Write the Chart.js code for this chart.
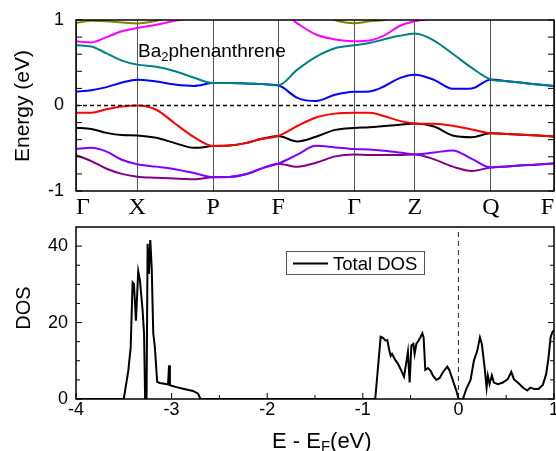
<!DOCTYPE html>
<html>
<head>
<meta charset="utf-8">
<script src="https://cdn.jsdelivr.net/npm/chart.js@4.4.0/dist/chart.umd.min.js"></script>
<style>
  html, body { margin: 0; padding: 0; background: #fff; }
  #wrap { position: relative; width: 556px; height: 451px; }
  .panel { position: absolute; left: 0; }
  #bandBox { top: 0; }
  #dosBox { top: 220px; }
</style>
</head>
<body>
<div id="wrap">
  <div class="panel" id="bandBox"><canvas id="bandChart" width="556" height="220"></canvas></div>
  <div class="panel" id="dosBox"><canvas id="dosChart" width="556" height="231"></canvas></div>
</div>
<script>
// ---- band structure ----
// high-symmetry points along the path (path length, normalised)
const kLabels = ['Γ', 'X', 'P', 'F', 'Γ', 'Z', 'Q', 'F'];
const kTicks  = [0, 0.128, 0.287, 0.423, 0.582, 0.709, 0.868, 1.0];

// k samples (each segment read at quarter steps)
const kGrid = [
  0, 0.032, 0.064, 0.096, 0.128,
  0.168, 0.207, 0.247, 0.287,
  0.321, 0.355, 0.389, 0.423,
  0.463, 0.502, 0.542, 0.582,
  0.614, 0.645, 0.677, 0.709,
  0.749, 0.788, 0.828, 0.868,
  0.901, 0.934, 0.967, 1.0
];

// band energies (eV) on kGrid
const bandOlive   = [0.965, 0.99, 0.985, 0.97, 0.96,  0.99, 1.05, 1.08, 1.1,  1.12, 1.12, 1.12, 1.12,  1.12, 1.1, 1.0, 0.962,  0.985, 1.0, 1.05, 1.08,  1.1, 1.12, 1.12, 1.12,  1.12, 1.12, 1.12, 1.12];
const bandMagenta = [0.752, 0.738, 0.80, 0.868, 0.906,  0.945, 0.99, 1.03, 1.06,  1.08, 1.1, 1.12, 1.12,  0.96, 0.83, 0.772, 0.752,  0.76, 0.82, 0.93, 0.985,  1.02, 1.06, 1.08, 1.1,  1.1, 1.1, 1.1, 1.1];
const bandTeal    = [0.705, 0.69, 0.61, 0.525, 0.478,  0.452, 0.40, 0.325, 0.262,  0.262, 0.258, 0.25, 0.236,  0.42, 0.57, 0.67, 0.704,  0.73, 0.775, 0.815, 0.842,  0.76, 0.605, 0.44, 0.305,  0.285, 0.265, 0.245, 0.228];
const bandBlue    = [0.16, 0.178, 0.215, 0.268, 0.302,  0.28, 0.245, 0.228, 0.262,  0.262, 0.258, 0.25, 0.236,  0.09, 0.052, 0.125, 0.16,  0.165, 0.225, 0.32, 0.36,  0.30, 0.195, 0.2, 0.305,  0.285, 0.265, 0.245, 0.228];
const bandRed     = [-0.085, -0.085, -0.045, -0.012, 0.0,  -0.05, -0.21, -0.37, -0.474,  -0.468, -0.44, -0.39, -0.357,  -0.24, -0.14, -0.095, -0.084,  -0.085, -0.125, -0.18, -0.21,  -0.214, -0.237, -0.28, -0.325,  -0.332, -0.342, -0.352, -0.362];
const bandBlack   = [-0.26, -0.275, -0.32, -0.345, -0.35,  -0.378, -0.44, -0.495, -0.474,  -0.468, -0.44, -0.39, -0.357,  -0.42, -0.365, -0.285, -0.262,  -0.255, -0.24, -0.225, -0.21,  -0.245, -0.35, -0.37, -0.325,  -0.332, -0.342, -0.352, -0.362];
const bandViolet  = [-0.51, -0.495, -0.54, -0.635, -0.687,  -0.715, -0.745, -0.79, -0.838,  -0.836, -0.805, -0.735, -0.68,  -0.575, -0.472, -0.49, -0.51,  -0.515, -0.53, -0.55, -0.572,  -0.55, -0.525, -0.625, -0.725,  -0.713, -0.70, -0.69, -0.678];
const bandPurple  = [-0.58, -0.65, -0.74, -0.80, -0.832,  -0.845, -0.855, -0.862, -0.838,  -0.836, -0.805, -0.735, -0.68,  -0.716, -0.67, -0.595, -0.573,  -0.578, -0.58, -0.578, -0.572,  -0.63, -0.715, -0.766, -0.725,  -0.713, -0.70, -0.69, -0.678];

const energyTicks = [-1, 0, 1];
const energyMinor = [-0.8, -0.6, -0.4, -0.2, 0.2, 0.4, 0.6, 0.8];

// ---- total DOS ----
const dosE = [-4, -3.5, -3.453, -3.428, -3.408, -3.394, -3.373, -3.349, -3.331, -3.303, -3.288, -3.277, -3.262,
  -3.251, -3.237, -3.223, -3.208, -3.192, -3.175, -3.151, -3.123, -3.06, -3.037, -3.027, -3.018, -2.95, -2.88,
  -2.776, -2.723, -2.698, -0.87,
  -0.813, -0.789, -0.764, -0.743, -0.722, -0.708, -0.694, -0.667, -0.632, -0.597, -0.569, -0.545, -0.528, -0.510,
  -0.492, -0.471, -0.458, -0.440, -0.416, -0.398, -0.377, -0.364, -0.346, -0.319, -0.291, -0.266, -0.231, -0.196,
  -0.162, -0.116, -0.092, -0.057, -0.022, 0.002, 0.047, 0.082, 0.127, 0.162, 0.197, 0.225, 0.245, 0.274, 0.295,
  0.308, 0.326, 0.350, 0.371, 0.413, 0.465, 0.517, 0.553, 0.580, 0.629, 0.674, 0.720, 0.754, 0.796, 0.838, 0.883,
  0.918, 0.943, 0.964, 0.981, 1.0];
const dosVal = [0, 0, 7.4, 13.5, 30.5, 30.1, 20.5, 33.4, 31, 23.1, 17, 0, 0,
  40.6, 32.7, 41.6, 34.4, 17.2, 13.6, 4.5, 4.2, 3.9, 3.8, 8.8, 3.6, 3.1, 2.7,
  2.1, 1.4, 0, 0,
  16.3, 16.0, 15.3, 15.4, 12.6, 11.3, 11.8, 10.5, 9.2, 7.4, 5.8, 9.6, 12.4, 4.3,
  14.0, 14.4, 11.8, 14.4, 15.3, 16.1, 17.2, 16.1, 7.6, 8.1, 7.4, 6.1, 5.0, 5.5,
  7.0, 8.5, 7.4, 4.8, 2.2, 0, 0, 2.6, 5.0, 10.0, 12.6, 16.1, 14.4, 8.3, 3.0,
  6.1, 3.9, 6.2, 4.3, 3.9, 4.3, 5.2, 7.1, 5.2, 4.1, 3.0, 2.2, 3.0, 2.6, 2.6, 3.7,
  6.5, 10.9, 16.1, 17.4, 18.0];

const dosXTicks = [-4, -3, -2, -1, 0, 1];
const dosXMinor = [-3.5, -2.5, -1.5, -0.5, 0.5];
const dosYTicks = [0, 20, 40];
const dosYMinor = [5, 10, 15, 25, 30, 35];

const sansFont = "'Liberation Sans', Arial, sans-serif";
const serifFont = "'Liberation Serif', 'Times New Roman', serif";

// fixed axis sizes, no automatic label padding around the plot
function fixSize(prop, size) {
  return s => {
    s[prop] = size;
    s.paddingLeft = s.paddingRight = s.paddingTop = s.paddingBottom = 0;
  };
}

// frame plus inward tick marks on the plot edges
const frameTicks = {
  id: 'frameTicks',
  afterDraw(chart, args, opts) {
    const { ctx, chartArea: a, scales } = chart;
    ctx.save();
    ctx.strokeStyle = '#000';
    ctx.lineWidth = 1;
    ctx.beginPath();
    (opts.yMarks || []).forEach(m => {
      const y = scales.y.getPixelForValue(m.v);
      ctx.moveTo(a.left, y); ctx.lineTo(a.left + m.len, y);
      ctx.moveTo(a.right, y); ctx.lineTo(a.right - m.len, y);
    });
    (opts.xMarks || []).forEach(m => {
      const x = scales.x.getPixelForValue(m.v);
      ctx.moveTo(x, a.bottom); ctx.lineTo(x, a.bottom - m.len);
    });
    ctx.stroke();
    ctx.lineWidth = 1.5;
    ctx.strokeRect(a.left, a.top, a.right - a.left, a.bottom - a.top);
    ctx.restore();
  }
};

function marks(major, minor, bigLen, smallLen) {
  return major.map(v => ({ v, len: bigLen })).concat(minor.map(v => ({ v, len: smallLen })));
}

function bandSet(values, color) {
  return {
    data: kGrid.map((k, i) => ({ x: k, y: values[i] })),
    borderColor: color,
    borderWidth: 2,
    pointRadius: 0,
    cubicInterpolationMode: 'monotone'
  };
}

// labels drawn on the band panel
const bandText = {
  id: 'bandText',
  afterDraw(chart) {
    const ctx = chart.ctx;
    ctx.save();
    ctx.fillStyle = '#000';
    ctx.font = '21px ' + sansFont;
    ctx.textAlign = 'center';
    ctx.translate(29, 106);
    ctx.rotate(-Math.PI / 2);
    ctx.fillText('Energy (eV)', 0, 0);
    ctx.restore();

    ctx.save();
    ctx.fillStyle = '#000';
    ctx.textAlign = 'left';
    let x = 138;
    ctx.font = '19px ' + sansFont;
    ctx.fillText('Ba', x, 57);
    x += ctx.measureText('Ba').width;
    ctx.font = '13px ' + sansFont;
    ctx.fillText('2', x, 61);
    x += ctx.measureText('2').width;
    ctx.font = '19px ' + sansFont;
    ctx.fillText('phenanthrene', x, 57);
    ctx.restore();
  }
};

new Chart(document.getElementById('bandChart'), {
  type: 'line',
  data: {
    datasets: [
      {
        data: [{ x: 0, y: 0 }, { x: 1, y: 0 }],
        borderColor: '#000', borderWidth: 1.3, borderDash: [4, 3], pointRadius: 0
      },
      bandSet(bandOlive, '#808000'),
      bandSet(bandMagenta, '#ff00ff'),
      bandSet(bandTeal, '#008080'),
      bandSet(bandBlue, '#0000ff'),
      bandSet(bandRed, '#ff0000'),
      bandSet(bandBlack, '#000000'),
      bandSet(bandViolet, '#8000ff'),
      bandSet(bandPurple, '#800080')
    ]
  },
  options: {
    responsive: false,
    animation: false,
    layout: { autoPadding: false, padding: { left: 0, right: 2, top: 20, bottom: 0 } },
    plugins: {
      legend: { display: false },
      tooltip: { enabled: false },
      frameTicks: { yMarks: marks(energyTicks, energyMinor, 6, 6) }
    },
    scales: {
      x: {
        type: 'linear', min: 0, max: 1,
        afterBuildTicks: s => { s.ticks = kTicks.map(v => ({ value: v })); },
        afterFit: fixSize('height', 29),
        grid: { color: '#555', lineWidth: 1, drawTicks: false },
        border: { display: false },
        ticks: {
          autoSkip: false, maxRotation: 0, padding: 2, color: '#000', align: 'inner',
          font: { family: serifFont, size: 24 },
          callback: (v, i) => kLabels[i]
        }
      },
      y: {
        min: -1, max: 1,
        afterBuildTicks: s => { s.ticks = energyTicks.map(v => ({ value: v })); },
        afterFit: fixSize('width', 76),
        grid: { display: false, drawTicks: false },
        border: { display: false },
        ticks: { padding: 12, color: '#000', font: { family: sansFont, size: 18 } }
      }
    }
  },
  plugins: [frameTicks, bandText]
});

// labels and legend on the DOS panel
const dosText = {
  id: 'dosText',
  afterDraw(chart) {
    const ctx = chart.ctx;
    ctx.save();
    ctx.fillStyle = '#000';
    ctx.font = '20px ' + sansFont;
    ctx.textAlign = 'center';
    ctx.translate(30, 88);
    ctx.rotate(-Math.PI / 2);
    ctx.fillText('DOS', 0, 0);
    ctx.restore();

    ctx.save();
    ctx.fillStyle = '#000';
    ctx.textAlign = 'left';
    let x = 272;
    ctx.font = '22px ' + sansFont;
    ctx.fillText('E - E', x, 228);
    x += ctx.measureText('E - E').width;
    ctx.font = '15px ' + sansFont;
    ctx.fillText('F', x, 231);
    x += ctx.measureText('F').width;
    ctx.font = '22px ' + sansFont;
    ctx.fillText('(eV)', x, 228);
    ctx.restore();

    // legend box
    ctx.save();
    ctx.strokeStyle = '#555';
    ctx.lineWidth = 1;
    ctx.strokeRect(286.5, 31.5, 138, 23);
    ctx.strokeStyle = '#000';
    ctx.lineWidth = 2;
    ctx.beginPath();
    ctx.moveTo(293, 43.5);
    ctx.lineTo(328, 43.5);
    ctx.stroke();
    ctx.fillStyle = '#000';
    ctx.font = '18.5px ' + sansFont;
    ctx.fillText('Total DOS', 333, 50);
    ctx.restore();
  }
};

new Chart(document.getElementById('dosChart'), {
  type: 'line',
  data: {
    datasets: [
      {
        data: [{ x: 0, y: 0 }, { x: 0, y: 45 }],
        borderColor: '#222', borderWidth: 1, borderDash: [5, 4], pointRadius: 0
      },
      {
        data: dosE.map((e, i) => ({ x: e, y: dosVal[i] })),
        borderColor: '#000', borderWidth: 2, pointRadius: 0, tension: 0
      }
    ]
  },
  options: {
    responsive: false,
    animation: false,
    layout: { autoPadding: false, padding: { left: 0, right: 2, top: 7, bottom: 0 } },
    plugins: {
      legend: { display: false },
      tooltip: { enabled: false },
      frameTicks: {
        yMarks: marks(dosYTicks, dosYMinor, 6, 4),
        xMarks: marks(dosXTicks, dosXMinor, 6, 4)
      }
    },
    scales: {
      x: {
        type: 'linear', min: -4, max: 1,
        afterBuildTicks: s => { s.ticks = dosXTicks.map(v => ({ value: v })); },
        afterFit: fixSize('height', 52),
        grid: { display: false, drawTicks: false },
        border: { display: false },
        ticks: { autoSkip: false, maxRotation: 0, padding: 0, color: '#000', font: { family: sansFont, size: 18 } }
      },
      y: {
        min: 0, max: 45,
        afterBuildTicks: s => { s.ticks = dosYTicks.map(v => ({ value: v })); },
        afterFit: fixSize('width', 76),
        grid: { display: false, drawTicks: false },
        border: { display: false },
        ticks: { padding: 8, color: '#000', font: { family: sansFont, size: 18 } }
      }
    }
  },
  plugins: [frameTicks, dosText]
});
</script>
</body>
</html>
